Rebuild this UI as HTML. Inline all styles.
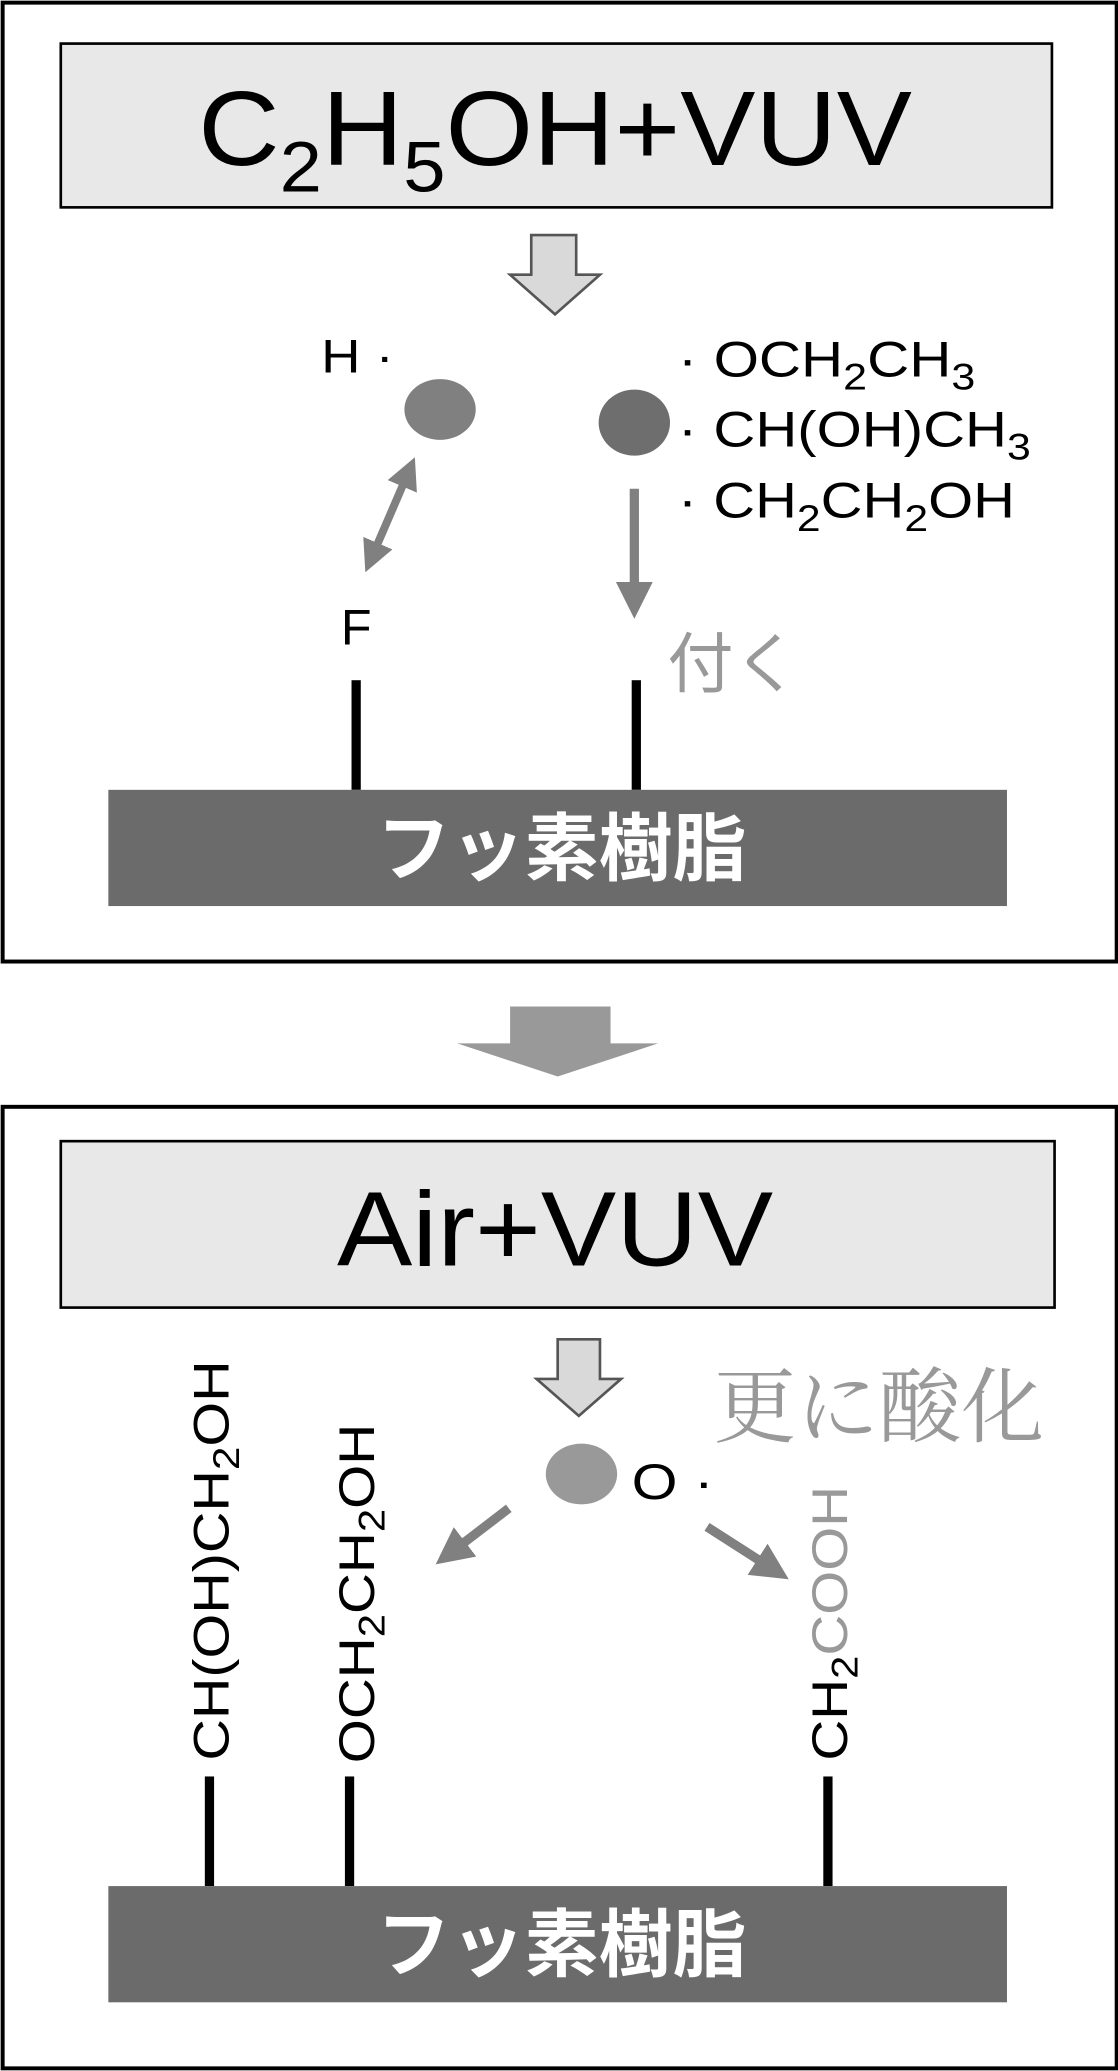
<!DOCTYPE html>
<html><head><meta charset="utf-8"><style>
html,body{margin:0;padding:0;background:#fff;}
svg{display:block;}
text{font-family:"Liberation Sans","Noto Sans CJK JP",sans-serif;}
</style></head><body>
<svg width="1118" height="2071" viewBox="0 0 846 1568" preserveAspectRatio="none" xmlns="http://www.w3.org/2000/svg">
<defs>
<marker id="ah" markerWidth="4" markerHeight="4" refX="2.5" refY="2" orient="auto" markerUnits="strokeWidth"><path d="M0,0 L4,2 L0,4 z" fill="#808080"/></marker>
<marker id="ahs" markerWidth="4" markerHeight="4" refX="1.5" refY="2" orient="auto-start-reverse" markerUnits="strokeWidth"><path d="M0,0 L4,2 L0,4 z" fill="#808080"/></marker>
</defs>
<rect x="2" y="2" width="843" height="726" fill="#fff" stroke="#000" stroke-width="3"/>
<rect x="46" y="33" width="750" height="124" fill="#e8e8e8" stroke="#000" stroke-width="2"/>
<text x="150" y="125" font-size="80" textLength="540" lengthAdjust="spacingAndGlyphs">C<tspan font-size="54" dy="20">2</tspan><tspan dy="-20">H</tspan><tspan font-size="54" dy="20">5</tspan><tspan dy="-20">OH+VUV</tspan></text>
<path d="M402,178 H436 V208 H454 L420,238 L386,208 H402 Z" fill="#d9d9d9" stroke="#555" stroke-width="2"/>
<text x="243" y="282" font-size="36" textLength="55" lengthAdjust="spacingAndGlyphs">H ·</text>
<ellipse cx="333" cy="310" rx="27" ry="23" fill="#808080"/>
<ellipse cx="480" cy="320" rx="27" ry="25" fill="#6e6e6e"/>
<text x="513" y="285" font-size="38" textLength="225" lengthAdjust="spacingAndGlyphs">· OCH<tspan font-size="28" dy="10">2</tspan><tspan dy="-10">CH</tspan><tspan font-size="28" dy="10">3</tspan></text>
<text x="513" y="338" font-size="38" textLength="267" lengthAdjust="spacingAndGlyphs">· CH(OH)CH<tspan font-size="28" dy="10">3</tspan></text>
<text x="513" y="392" font-size="38" textLength="255" lengthAdjust="spacingAndGlyphs">· CH<tspan font-size="28" dy="10">2</tspan><tspan dy="-10">CH</tspan><tspan font-size="28" dy="10">2</tspan><tspan dy="-10">OH</tspan></text>
<line x1="308" y1="360" x2="280" y2="425" stroke="#808080" stroke-width="6" marker-start="url(#ahs)" marker-end="url(#ah)"/>
<line x1="480" y1="370" x2="480" y2="458" stroke="#808080" stroke-width="7" marker-end="url(#ah)"/>
<text x="258" y="488" font-size="38">F</text>
<text x="505" y="520" font-size="50" fill="#999">付く</text>
<rect x="266" y="515" width="7" height="83" fill="#000"/>
<rect x="478" y="515" width="7" height="83" fill="#000"/>
<rect x="82" y="598" width="680" height="88" fill="#6b6b6b"/>
<text x="425" y="662" font-size="56" font-weight="bold" fill="#fff" text-anchor="middle">フッ素樹脂</text>
<path d="M386,762 H462 V790 H498 L422,815 L346,790 H386 Z" fill="#999"/>
<rect x="2" y="838" width="843" height="728" fill="#fff" stroke="#000" stroke-width="3"/>
<rect x="46" y="864" width="752" height="126" fill="#e8e8e8" stroke="#000" stroke-width="2"/>
<text x="255" y="958" font-size="80" textLength="330" lengthAdjust="spacingAndGlyphs">Air+VUV</text>
<path d="M422,1014 H454 V1044 H470 L438,1072 L406,1044 H422 Z" fill="#d9d9d9" stroke="#555" stroke-width="2"/>
<text x="540" y="1087" font-size="62" fill="#999" style="font-family:'Noto Serif CJK SC',serif" textLength="250" lengthAdjust="spacingAndGlyphs">更に酸化</text>
<ellipse cx="440" cy="1116" rx="27" ry="23" fill="#999"/>
<text x="478" y="1135" font-size="38" textLength="62" lengthAdjust="spacingAndGlyphs">O ·</text>
<line x1="385" y1="1142" x2="338" y2="1178" stroke="#808080" stroke-width="7" marker-end="url(#ah)"/>
<line x1="535" y1="1156" x2="588" y2="1190" stroke="#808080" stroke-width="7" marker-end="url(#ah)"/>
<text transform="translate(173,1333) rotate(-90)" font-size="38" textLength="303" lengthAdjust="spacingAndGlyphs">CH(OH)CH<tspan font-size="28" dy="8">2</tspan><tspan dy="-8">OH</tspan></text>
<text transform="translate(283,1335) rotate(-90)" font-size="38" textLength="257" lengthAdjust="spacingAndGlyphs">OCH<tspan font-size="28" dy="8">2</tspan><tspan dy="-8">CH</tspan><tspan font-size="28" dy="8">2</tspan><tspan dy="-8">OH</tspan></text>
<text transform="translate(641,1333) rotate(-90)" font-size="38" textLength="208" lengthAdjust="spacingAndGlyphs">CH<tspan font-size="28" dy="8">2</tspan><tspan dy="-8" fill="#999">COOH</tspan></text>
<rect x="155" y="1345" width="7" height="83" fill="#000"/>
<rect x="261" y="1345" width="7" height="83" fill="#000"/>
<rect x="623" y="1345" width="7" height="83" fill="#000"/>
<rect x="82" y="1428" width="680" height="88" fill="#6b6b6b"/>
<text x="425" y="1492" font-size="56" font-weight="bold" fill="#fff" text-anchor="middle">フッ素樹脂</text>
</svg>
</body></html>
